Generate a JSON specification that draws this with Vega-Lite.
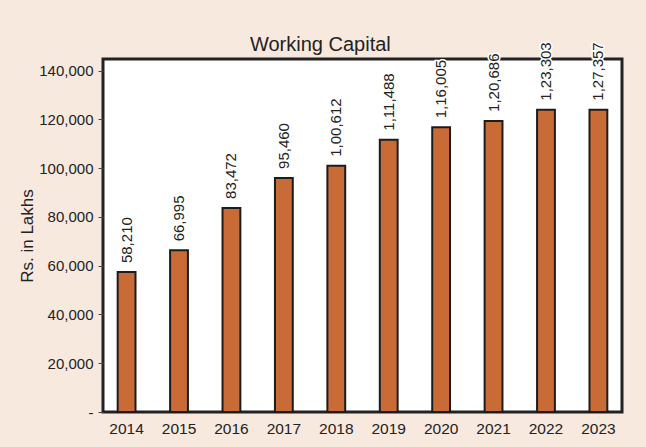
{
  "$schema": "https://vega.github.io/schema/vega-lite/v6.json",
  "autosize": {"type": "none"},
  "padding": {"left": 103, "top": 59, "right": 24, "bottom": 35},
  "width": 519,
  "height": 353,
  "background": "#f8e9df",
  "title": {
    "text": "Working Capital",
    "font": "Liberation Sans",
    "fontSize": 20,
    "fontWeight": "normal",
    "color": "#222222",
    "anchor": "middle",
    "frame": "bounds",
    "offset": -13
  },
  "config": {
    "view": {"fill": "white", "stroke": "#222222", "strokeWidth": 3}
  },
  "data": {
    "values": [
      {"year": "2014", "value": 57400, "label": "58,210"},
      {"year": "2015", "value": 66300, "label": "66,995"},
      {"year": "2016", "value": 83700, "label": "83,472"},
      {"year": "2017", "value": 96000, "label": "95,460"},
      {"year": "2018", "value": 101000, "label": "1,00,612"},
      {"year": "2019", "value": 111700, "label": "1,11,488"},
      {"year": "2020", "value": 116800, "label": "1,16,005"},
      {"year": "2021", "value": 119400, "label": "1,20,686"},
      {"year": "2022", "value": 124000, "label": "1,23,303"},
      {"year": "2023", "value": 124000, "label": "1,27,357"}
    ]
  },
  "encoding": {
    "x": {
      "field": "year",
      "type": "nominal",
      "scale": {"paddingInner": 0.66, "paddingOuter": 0.28},
      "axis": {
        "title": null,
        "labelAngle": 0,
        "ticks": false,
        "domain": false,
        "labelFont": "Liberation Sans",
        "labelFontSize": 15.5,
        "labelColor": "#222222",
        "labelPadding": 9
      }
    },
    "y": {
      "field": "value",
      "type": "quantitative",
      "scale": {"domain": [0, 144800], "nice": false, "zero": true},
      "axis": {
        "title": "Rs. in Lakhs",
        "titleFont": "Liberation Sans",
        "titleFontSize": 17,
        "titleFontWeight": "normal",
        "titleColor": "#222222",
        "titlePadding": 2,
        "values": [0, 20000, 40000, 60000, 80000, 100000, 120000, 140000],
        "labelExpr": "datum.value == 0 ? '-' : format(datum.value, ',')",
        "labelFont": "Liberation Sans",
        "labelFontSize": 15,
        "labelColor": "#222222",
        "labelPadding": 5,
        "tickSize": 5,
        "tickColor": "#444444",
        "domain": false,
        "grid": false
      }
    }
  },
  "layer": [
    {
      "mark": {"type": "bar", "color": "#c96b37", "stroke": "#1c1c1c", "strokeWidth": 2}
    },
    {
      "mark": {
        "type": "text",
        "angle": 270,
        "align": "left",
        "baseline": "middle",
        "dx": 9,
        "font": "Liberation Sans",
        "fontSize": 15,
        "fill": "white",
        "stroke": "white",
        "strokeWidth": 3
      },
      "encoding": {"text": {"field": "label"}}
    },
    {
      "mark": {
        "type": "text",
        "angle": 270,
        "align": "left",
        "baseline": "middle",
        "dx": 9,
        "font": "Liberation Sans",
        "fontSize": 15,
        "color": "#222222"
      },
      "encoding": {"text": {"field": "label"}}
    }
  ]
}
